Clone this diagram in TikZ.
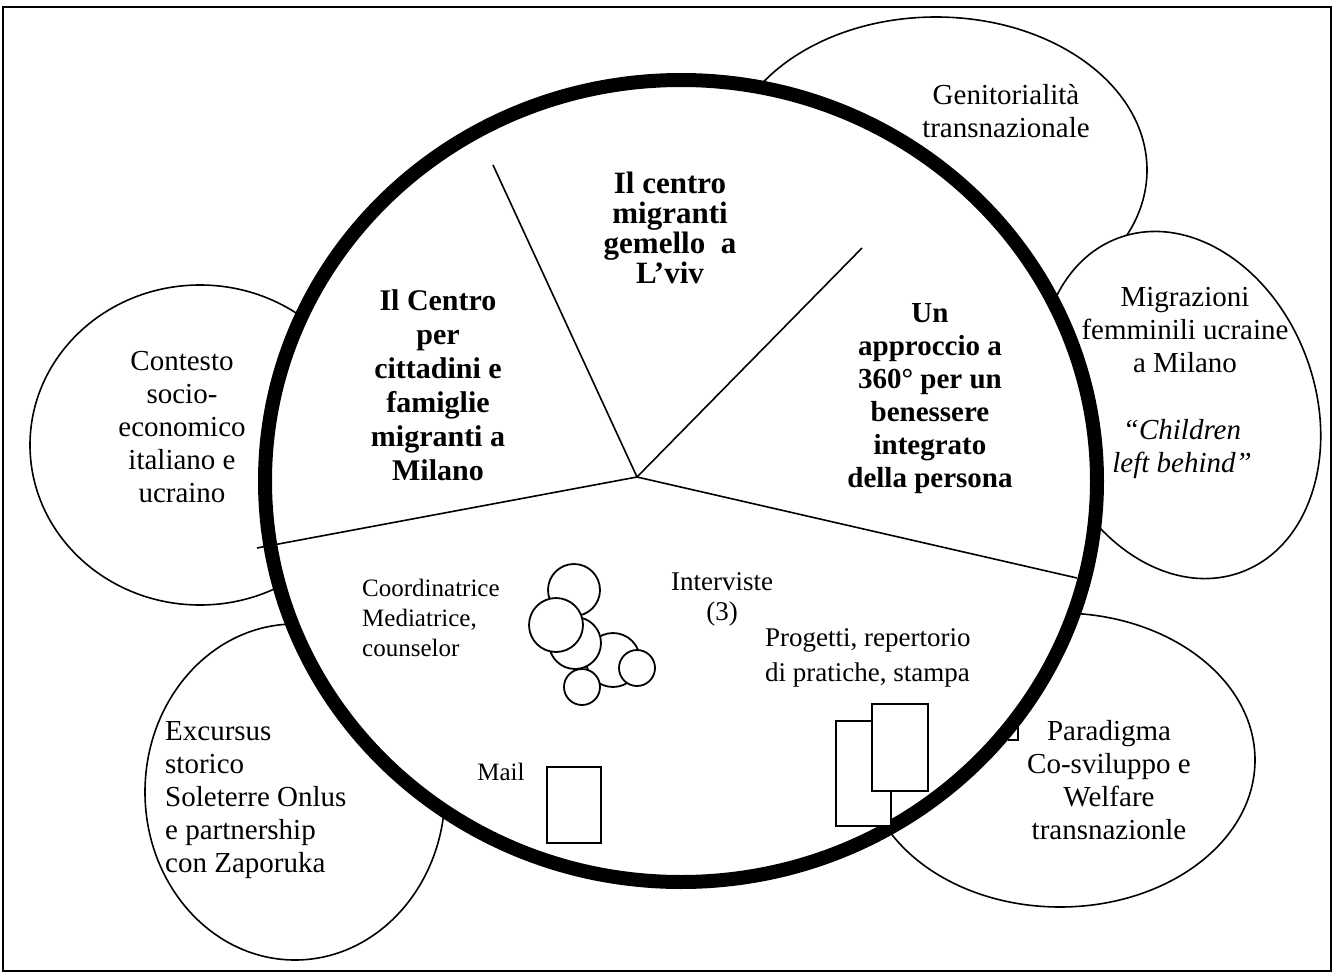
\documentclass[tikz,border=0pt]{standalone}
\usepackage{fontspec}
\setmainfont{Liberation Serif}
\begin{document}
\begin{tikzpicture}[x=1pt,y=-1pt,
  sat/.style={draw=black, fill=white, line width=1.6pt},
  spoke/.style={draw=black, line width=1.6pt},
  doc/.style={draw=black, fill=white, line width=1.8pt},
  bub/.style={draw=black, fill=white, line width=1.8pt},
  sattext/.style={align=center, font=\fontsize{29}{33}\selectfont, inner sep=0pt},
  bigtext/.style={align=center, font=\bfseries\fontsize{30}{34}\selectfont, inner sep=0pt},
  smalltext/.style={font=\fontsize{25}{30}\selectfont, inner sep=0pt},
]
\useasboundingbox (0,0) rectangle (1334,974);
\draw[line width=2.5pt] (3,7) rectangle (1331,971);

% satellite ellipses
\path[sat] (936,170) ellipse [x radius=211pt, y radius=153pt];
\path[sat, rotate around={20:(1180,405)}] (1180,405) ellipse [x radius=135pt, y radius=178pt];
\path[sat] (200,445) ellipse [x radius=170pt, y radius=160pt];
\path[sat] (295,792) ellipse [x radius=150pt, y radius=168pt];
\path[sat] (1060,760) ellipse [x radius=195pt, y radius=147pt];
\draw[line width=1.4pt] (1018,726) -- (1018,740) -- (1008,740);

% big circle
\path[draw=black, fill=white, line width=14pt] (681,481) ellipse [x radius=416pt, y radius=401pt];

% spokes
\coordinate (hub) at (637,477);
\coordinate (s1) at (493,165);
\coordinate (s2) at (862,248);
\coordinate (s3) at (257,548);
\coordinate (s4) at (1077,578);
\draw[spoke] (s1) -- (hub) -- (s2);
\draw[spoke] (s3) -- (hub) -- (s4);

% bubbles cluster
\path[bub] (574,590) circle [radius=26pt];
\path[bub] (613,660) circle [radius=27pt];
\path[bub] (575,643) circle [radius=26pt];
\path[bub] (556,625) circle [radius=27pt];
\path[bub] (637,668) circle [radius=18pt];
\path[bub] (582,687) circle [radius=18pt];

% documents
\path[doc] (547,767) rectangle (601,843);
\path[doc] (836,721) rectangle (891,826);
\path[doc] (872,704) rectangle (928,791);

% texts
\node[bigtext, font=\bfseries\fontsize{31}{30}\selectfont] (t1) at (670,228) {Il centro\\migranti\\gemello\ \ a\\L’viv};
\node[bigtext] (t2) at (438,385) {Il Centro\\per\\cittadini e\\famiglie\\migranti a\\Milano};
\node[bigtext, font=\bfseries\fontsize{29}{33}\selectfont] (t3) at (930,399) {Un\\approccio a\\360° per un\\benessere\\integrato\\della persona};

\node[sattext] (g) at (1006,111) {Genitorialità\\transnazionale};
\node[sattext] (m1) at (1185,330) {Migrazioni\\femminili ucraine\\a Milano};
\node[sattext, font=\itshape\fontsize{29}{33}\selectfont] (m2) at (1182,449) {“Children\\left behind”};
\node[sattext] (c) at (182,427) {Contesto\\socio-\\economico\\italiano e\\ucraino};
\node[sattext, align=left, anchor=west] (e) at (165,800) {Excursus\\storico\\Soleterre Onlus\\e partnership\\con Zaporuka};
\node[sattext] (p) at (1109,780) {Paradigma\\Co-sviluppo e\\Welfare\\transnazionle};

\node[smalltext, align=left, anchor=west] (co) at (362,618) {Coordinatrice\\Mediatrice,\\counselor};
\node[smalltext, align=center, font=\fontsize{27}{30}\selectfont] (iv) at (722,599) {Interviste\\(3)};
\node[smalltext, align=left, anchor=west, font=\fontsize{27}{35}\selectfont] (pr) at (765,658) {Progetti, repertorio\\di pratiche, stampa};
\node[smalltext] (ml) at (501,772) {Mail};
\end{tikzpicture}
\end{document}
